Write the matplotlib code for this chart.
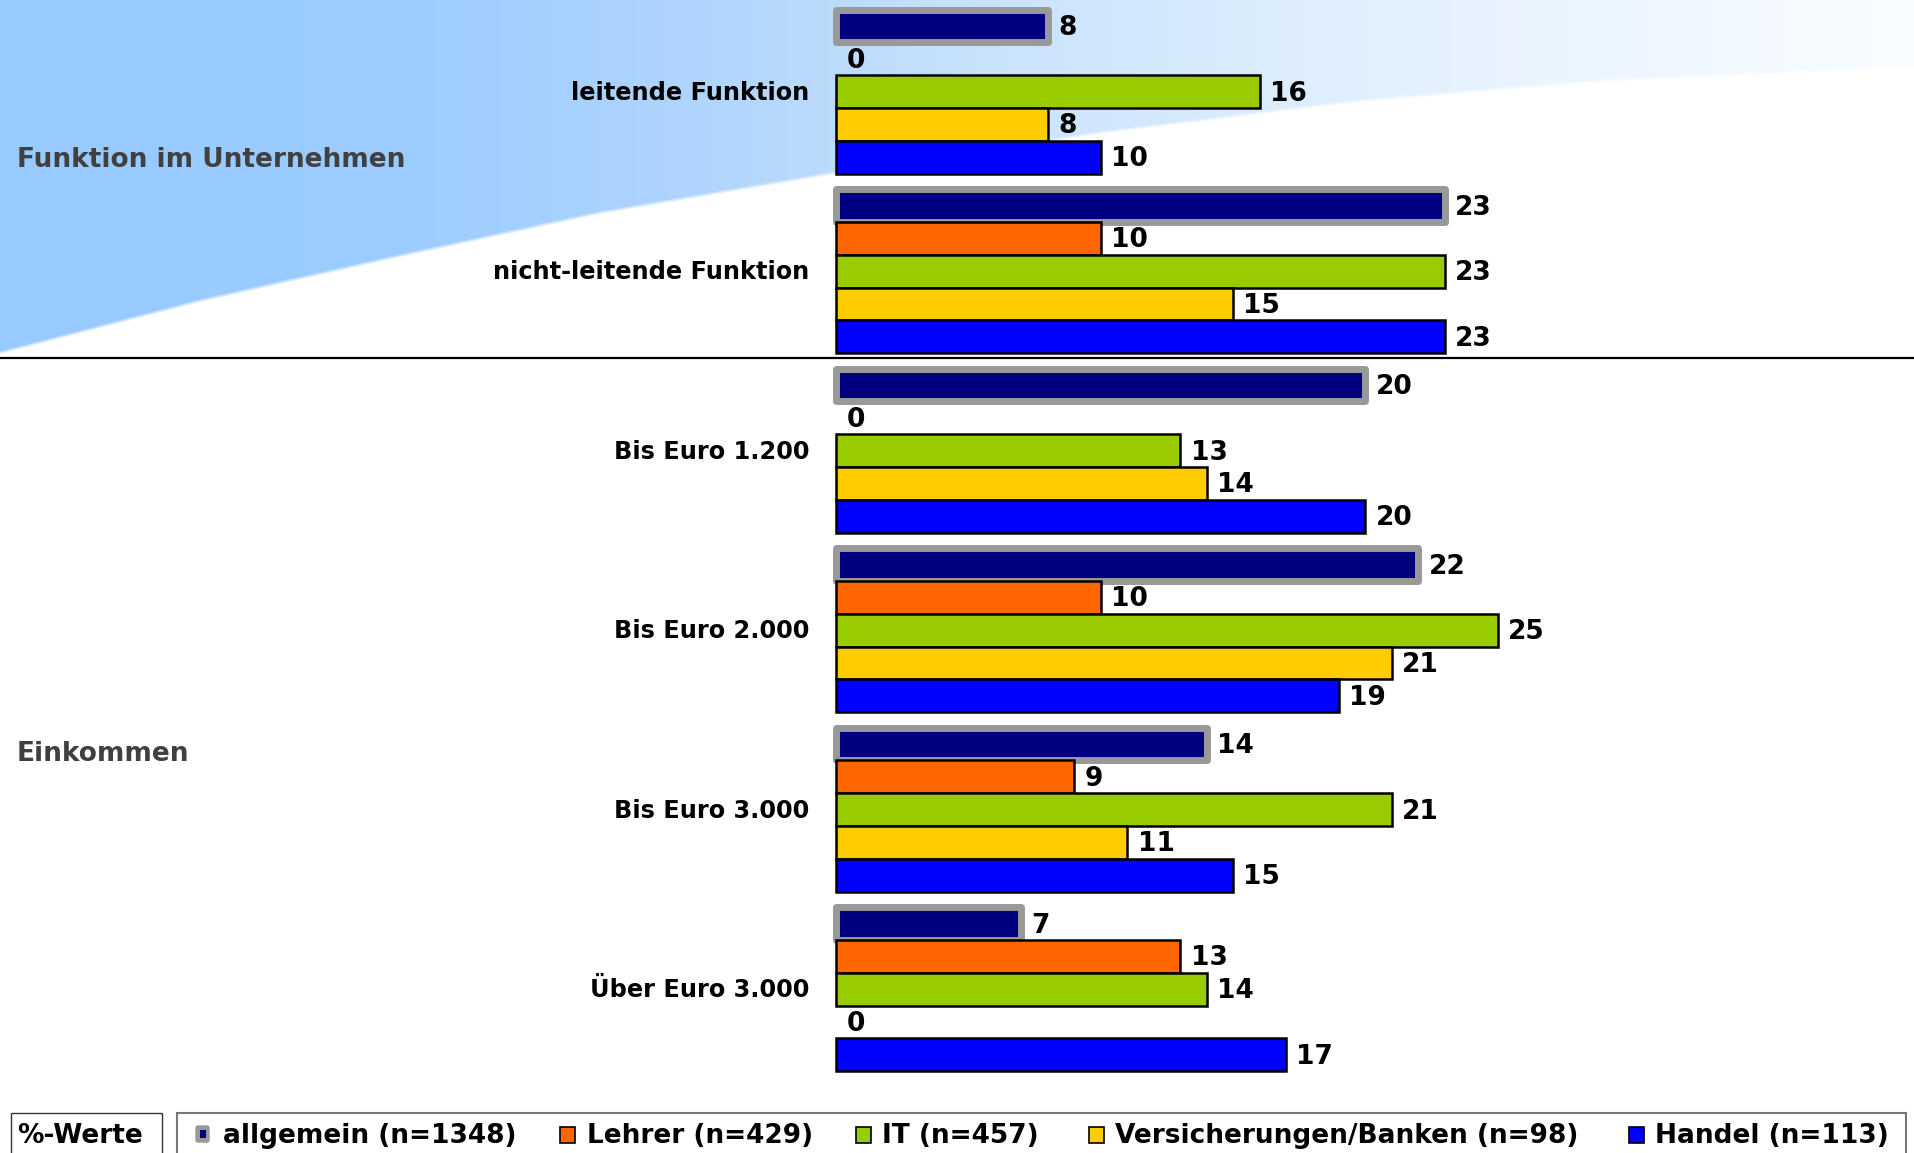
import numpy as np
import matplotlib
matplotlib.use("Agg")
import matplotlib.pyplot as plt
from matplotlib.patches import Rectangle, FancyBboxPatch

plt.rcParams['font.family'] = ['DejaVu Sans']

# ---------------- data ----------------
categories = ["leitende Funktion", "nicht-leitende Funktion",
              "Bis Euro 1.200", "Bis Euro 2.000", "Bis Euro 3.000", "Über Euro 3.000"]
series_names = ["allgemein (n=1348)", "Lehrer (n=429)", "IT (n=457)",
                "Versicherungen/Banken (n=98)", "Handel (n=113)"]
allgemein = [8, 23, 20, 22, 14, 7]
lehrer    = [0, 10, 0, 10, 9, 13]
it        = [16, 23, 13, 25, 21, 14]
versich   = [8, 15, 14, 21, 11, 0]
handel    = [10, 23, 20, 19, 15, 17]
series_values = [allgemein, lehrer, it, versich, handel]
section_labels = ["Funktion im Unternehmen", "Einkommen"]
unit_label = "%-Werte"

colors = ["#000080", "#FF6600", "#99CC00", "#FFCC00", "#0000FF"]

# ---------------- figure ----------------
W, H = 1915, 1153
fig = plt.figure(figsize=(W / 100, H / 100), dpi=100)

# background axes in pixel coordinates
bg = fig.add_axes([0, 0, 1, 1])
bg.set_xlim(0, W)
bg.set_ylim(H, 0)
bg.axis('off')

xs = np.arange(W)
ys = np.arange(H)
stop_x = [0, 400, 700, 1000, 1300, 1600, 1915]
stop_r = [152, 156, 176, 202, 222, 236, 250]
stop_g = [202, 204, 213, 227, 238, 246, 253]
stop_b = [255, 255, 253, 252, 253, 255, 255]
r = np.interp(xs, stop_x, stop_r) / 255
g = np.interp(xs, stop_x, stop_g) / 255
b = np.interp(xs, stop_x, stop_b) / 255
curve_x = [0, 200, 400, 600, 836, 1100, 1361, 1600, 1915]
curve_y = [352, 300, 255, 212, 172, 132, 100, 80, 66]
cy = np.interp(xs, curve_x, curve_y)
img = np.ones((H, W, 4))
img[:, :, 0] = r[None, :]
img[:, :, 1] = g[None, :]
img[:, :, 2] = b[None, :]
alpha = np.clip((cy[None, :] - ys[:, None]) / 4.0 + 0.5, 0, 1)
img[:, :, 3] = alpha
bg.imshow(img, extent=(0, W, H, 0), aspect='auto', zorder=0, interpolation='bilinear')

# separator line
bg.plot([0, W], [358, 358], color='black', lw=1.6, zorder=1)

# bar axes
x0_px, px_per_unit = 836, 26.47
y0_px, bar_px = 26, 32.8
group_step = 179.5 / bar_px
ax = fig.add_axes([0, 0, 1, 1])
ax.patch.set_alpha(0)
ax.axis('off')
ax.set_xlim(-x0_px / px_per_unit, (W - x0_px) / px_per_unit)
ax.set_ylim((H - y0_px) / bar_px, -y0_px / bar_px)

ngroups = len(categories)
group_pos = np.arange(ngroups) * group_step

for s, (vals, col) in enumerate(zip(series_values, colors)):
    ypos = group_pos + s
    if s == 0:
        bars = ax.barh(ypos, vals, height=1.0, color=col, edgecolor='#999999',
                       linewidth=5.0, zorder=2)
        for p in bars:
            p.set_joinstyle('round')
    else:
        bars = ax.barh(ypos, vals, height=1.0, color=col, edgecolor='black',
                       linewidth=1.8, zorder=3)
    for p, v in zip(bars, vals):
        if v == 0:
            p.set_visible(False)
    for yv, v in zip(ypos, vals):
        ax.annotate(f"{v}", xy=(v, yv), xytext=(7.5, -1.5), textcoords='offset points',
                    ha='left', va='center', fontsize=19, fontweight='bold',
                    color='black', zorder=5)

for gi, cat in enumerate(categories):
    ax.annotate(cat, xy=(0, group_pos[gi] + 2), xytext=(-19, -1),
                textcoords='offset points', ha='right', va='center',
                fontsize=17.3, fontweight='bold', color='black')

# section labels
bg.text(17, 160, section_labels[0], ha='left', va='center', fontsize=19,
        fontweight='bold', color='#404040', zorder=4)
bg.text(17, 754, section_labels[1], ha='left', va='center', fontsize=19,
        fontweight='bold', color='#404040', zorder=4)

# legend row
bg.add_patch(Rectangle((11, 1113), 151, 60, facecolor='white', edgecolor='#333333',
                       lw=1.0, zorder=3))
bg.text(17, 1143, unit_label, ha='left', va='baseline', fontsize=19,
        fontweight='bold', color='black', zorder=4)
bg.add_patch(Rectangle((177, 1113), 1729, 60, facecolor='white', edgecolor='#777777',
                       lw=1.5, zorder=3))
marker_x = [195, 560, 856, 1089, 1629]
text_x = [223, 587, 882, 1115, 1655]
for i, (name, col) in enumerate(zip(series_names, colors)):
    mx = marker_x[i]
    if i == 0:
        bg.add_patch(FancyBboxPatch((mx + 1, 1126), 13, 16,
                                    boxstyle="round,pad=0,rounding_size=2",
                                    facecolor='#999999', edgecolor='#999999',
                                    lw=1.0, zorder=4))
        bg.add_patch(Rectangle((mx + 5, 1130), 6, 8, facecolor=col,
                               edgecolor='none', zorder=5))
    else:
        bg.add_patch(Rectangle((mx, 1127), 15, 16, facecolor=col,
                               edgecolor='black', lw=1.2, zorder=4))
    bg.text(text_x[i], 1143, name, ha='left', va='baseline', fontsize=19,
            fontweight='bold', color='black', zorder=4)

fig.savefig("out.png", dpi=100)
